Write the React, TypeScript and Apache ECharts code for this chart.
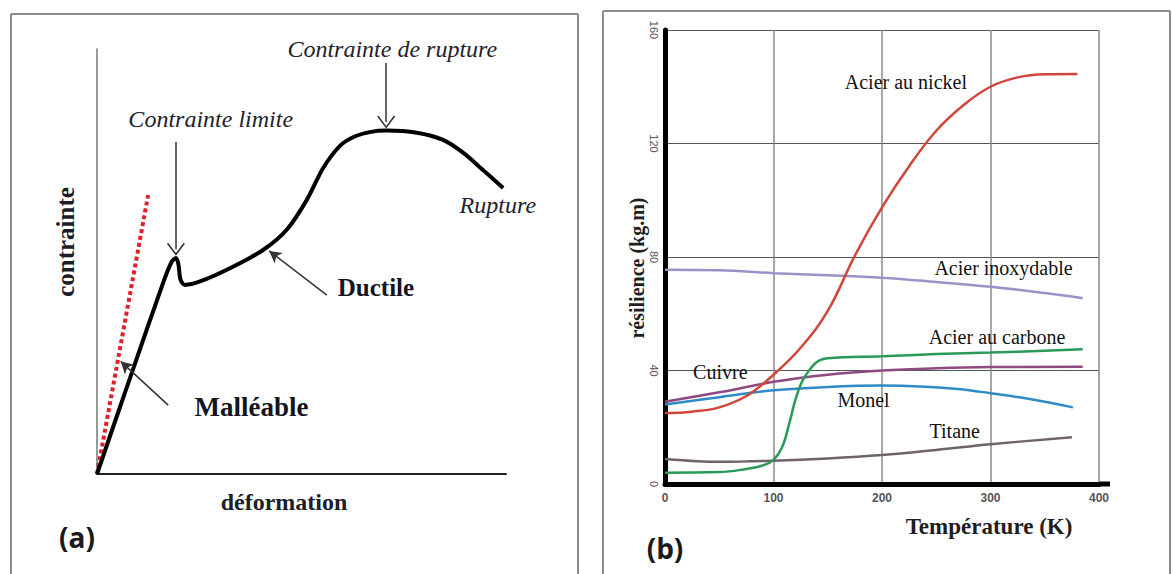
import React, { useEffect, useRef } from 'react';
import * as echarts from 'echarts';

// ---------- Panel (a) : stress / strain (arbitrary units 0..100) ----------
const stressStrainCurve = [
  [0, 0], [8, 22.4], [16.4, 45.6], [18.3, 50.0], [19.3, 50.8], [19.9, 49.4],
  [20.4, 45.8], [21.5, 44.5], [25.2, 45.3], [32.5, 48.4], [40.6, 52.7],
  [46.5, 57.6], [51.3, 64.5], [55.3, 72.0], [59.4, 77.2], [63, 79.4],
  [67, 80.5], [70.7, 80.8], [78.2, 80.3], [84.6, 78.6], [89.5, 75.6],
  [94.4, 71.5], [99.3, 67.3]
];
const elasticLine = [[0, 0], [12.5, 65.6]];

const panelALabels = ['Contrainte limite', 'Contrainte de rupture', 'Rupture', 'Ductile', 'Malléable'];
const panelALabelPos = [[27.8, 83.5], [72.2, 100], [98, 63.3], [68.2, 43.8], [37.8, 15.8]];

// ---------- Panel (b) : résilience vs température ----------
const nickel = [[0, 25], [25, 25.5], [50, 27], [75, 31], [100, 38.5], [125, 48], [150, 61], [175, 80.5],
  [200, 97.5], [225, 112], [250, 124.5], [275, 133.5], [300, 140], [325, 143.3], [350, 144.4], [380, 144.5]];
const inox = [[0, 75.5], [50, 75.3], [100, 74.3], [150, 73.6], [200, 72.7], [250, 71.2], [300, 69.5],
  [350, 67.3], [385, 65.5]];
const carbone = [[0, 4], [50, 4.2], [75, 5.3], [90, 6.5], [100, 8.5], [108, 13], [115, 22], [120, 29.5],
  [125, 35], [130, 38.5], [140, 43], [150, 44.3], [200, 45], [250, 45.8], [300, 46.3], [350, 47], [385, 47.5]];
const cuivre = [[0, 29], [50, 32.3], [100, 36], [150, 38.5], [200, 40], [250, 40.8], [300, 41.2], [385, 41.3]];
const monel = [[0, 28], [50, 30.6], [100, 33], [150, 34.2], [200, 34.7], [240, 34.3], [270, 33.5],
  [300, 32], [340, 29.7], [376, 27]];
const titane = [[0, 8.8], [30, 8], [50, 7.8], [100, 8.2], [150, 9], [200, 10.2], [250, 12], [300, 14], [375, 16.5]];

const panelBLabels = ['Acier au nickel', 'Acier inoxydable', 'Acier au carbone', 'Cuivre', 'Monel', 'Titane'];
const panelBLabelPos = [[222, 141.5], [312, 76], [306, 51.8], [51, 39.4], [183, 29.6], [267, 18.7]];

const SERIF = 'Liberation Serif';

const vArrow = 'path://M0,0 L10,12 L8.6,13 L0,2.6 L-8.6,13 L-10,12 Z';

export default function App() {
  const ref = useRef<HTMLDivElement>(null);

  useEffect(() => {
    if (!ref.current) return;
    const chart = echarts.init(ref.current, undefined, { renderer: 'svg' });

    const bLine = (name: string, data: number[][], color: string) => ({
      name,
      type: 'line',
      xAxisIndex: 1,
      yAxisIndex: 1,
      data,
      smooth: 0.4,
      showSymbol: false,
      lineStyle: { color, width: 2.5 },
      z: 3,
    });

    const option: any = {
      animation: false,
      backgroundColor: '#ffffff',
      grid: [
        { left: 97, top: 49, width: 409, height: 425 },
        { left: 665, top: 30, width: 434, height: 454 },
      ],
      xAxis: [
        {
          gridIndex: 0, type: 'value', min: 0, max: 100,
          axisLine: { show: true, onZero: false, lineStyle: { color: '#222', width: 2 } },
          axisTick: { show: false }, axisLabel: { show: false }, splitLine: { show: false },
        },
        {
          gridIndex: 1, type: 'value', min: 0, max: 400, interval: 100,
          axisLine: { show: true, onZero: false, lineStyle: { color: '#000', width: 5 } },
          axisTick: { show: false },
          axisLabel: { color: '#555', fontSize: 12, fontWeight: 'bold', margin: 8, fontFamily: 'Liberation Sans' },
          splitLine: { show: true, lineStyle: { color: '#8a8a8a', width: 1.5 } },
        },
      ],
      yAxis: [
        {
          gridIndex: 0, type: 'value', min: 0, max: 100,
          axisLine: { show: true, onZero: false, lineStyle: { color: '#777', width: 1.5 } },
          axisTick: { show: false }, axisLabel: { show: false }, splitLine: { show: false },
        },
        {
          gridIndex: 1, type: 'value', min: 0, max: 160, interval: 40,
          axisLine: { show: true, onZero: false, lineStyle: { color: '#000', width: 5 } },
          axisTick: { show: false },
          axisLabel: { rotate: -90, color: '#555', fontSize: 11, margin: 6, fontFamily: 'Liberation Sans' },
          splitLine: { show: true, lineStyle: { color: '#555', width: 1 } },
        },
      ],
      series: [
        {
          type: 'line', xAxisIndex: 0, yAxisIndex: 0, data: elasticLine, showSymbol: false,
          lineStyle: { color: '#e0202c', width: 4, type: [4, 3] }, z: 2,
        },
        {
          type: 'line', xAxisIndex: 0, yAxisIndex: 0, data: stressStrainCurve, showSymbol: false,
          smooth: 0.3, lineStyle: { color: '#000', width: 4 }, z: 3,
          markLine: {
            silent: true,
            symbol: ['none', 'arrow'],
            symbolSize: 10,
            label: { show: false },
            lineStyle: { color: '#333', width: 1.5, type: 'solid' },
            data: [
              [{ coord: [19.3, 78.1], symbol: 'none' }, { coord: [19.3, 52.9], symbol: vArrow, symbolSize: [18, 13] }],
              [{ coord: [70.7, 96.7], symbol: 'none' }, { coord: [70.7, 82.8], symbol: vArrow, symbolSize: [18, 13] }],
              [{ coord: [56.2, 42.1], symbol: 'none' }, { coord: [42.1, 52.5], symbol: 'arrow', symbolSize: [10, 12] }],
              [{ coord: [17.4, 16.2], symbol: 'none' }, { coord: [5.8, 26.5], symbol: 'arrow', symbolSize: [10, 12] }],
            ],
          },
        },
        {
          type: 'scatter', xAxisIndex: 0, yAxisIndex: 0, symbol: 'circle', symbolSize: 1,
          itemStyle: { color: 'rgba(255,255,255,0)', opacity: 1 }, silent: true, clip: false,
          label: { show: true, position: 'inside', formatter: '{b}', fontFamily: SERIF, color: '#15151f' },
          data: panelALabels.map((n, i) => ({
            name: n,
            value: panelALabelPos[i],
            label: i < 3
              ? { fontStyle: 'italic', fontSize: 24, color: '#22222c', fontFamily: SERIF }
              : { fontWeight: 'bold', fontSize: i === 3 ? 25 : 27, color: '#15151f', fontFamily: SERIF },
          })),
          z: 5,
        },
        bLine('Acier inoxydable', inox, '#9c92c9'),
        bLine('Titane', titane, '#6f6464'),
        bLine('Monel', monel, '#2f8bc6'),
        bLine('Cuivre', cuivre, '#8e4a80'),
        bLine('Acier au carbone', carbone, '#2a9a58'),
        bLine('Acier au nickel', nickel, '#d0463a'),
        {
          type: 'scatter', xAxisIndex: 1, yAxisIndex: 1, symbol: 'circle', symbolSize: 1,
          itemStyle: { color: 'rgba(255,255,255,0)', opacity: 1 }, silent: true, clip: false,
          label: { show: true, position: 'inside', formatter: '{b}', fontFamily: SERIF, fontSize: 20, color: '#111111' },
          data: panelBLabels.map((n, i) => ({ name: n, value: panelBLabelPos[i] })),
          z: 5,
        },
      ],
      graphic: {
        elements: [
          // panel frames
          { type: 'line', shape: { x1: 11, y1: 14, x2: 578, y2: 14 }, style: { stroke: '#8c8c8c', lineWidth: 2 }, silent: true },
          { type: 'line', shape: { x1: 11, y1: 14, x2: 11, y2: 574 }, style: { stroke: '#8c8c8c', lineWidth: 2 }, silent: true },
          { type: 'line', shape: { x1: 578, y1: 14, x2: 578, y2: 574 }, style: { stroke: '#8c8c8c', lineWidth: 2 }, silent: true },
          { type: 'line', shape: { x1: 603, y1: 11, x2: 1170, y2: 11 }, style: { stroke: '#8c8c8c', lineWidth: 2 }, silent: true },
          { type: 'line', shape: { x1: 603, y1: 11, x2: 603, y2: 574 }, style: { stroke: '#8c8c8c', lineWidth: 2 }, silent: true },
          { type: 'line', shape: { x1: 1170, y1: 11, x2: 1170, y2: 574 }, style: { stroke: '#8c8c8c', lineWidth: 2 }, silent: true },
          // extension of the thick temperature axis beyond 400 K
          { type: 'line', shape: { x1: 1099, y1: 484, x2: 1110, y2: 484 }, style: { stroke: '#000', lineWidth: 5 }, silent: true },
          // axis titles
          {
            type: 'text', x: 65, y: 242, rotation: Math.PI / 2, silent: true,
            style: { text: 'contrainte', fontFamily: SERIF, fontWeight: 'bold', fontSize: 25, fill: '#1e1e28', align: 'center', verticalAlign: 'middle' },
          },
          {
            type: 'text', x: 284, y: 502, silent: true,
            style: { text: 'déformation', fontFamily: SERIF, fontWeight: 'bold', fontSize: 24, fill: '#1e1e28', align: 'center', verticalAlign: 'middle' },
          },
          {
            type: 'text', x: 637, y: 268, rotation: Math.PI / 2, silent: true,
            style: { text: 'résilience (kg.m)', fontFamily: SERIF, fontWeight: 'bold', fontSize: 20, fill: '#1e1e1e', align: 'center', verticalAlign: 'middle' },
          },
          {
            type: 'text', x: 989, y: 526, silent: true,
            style: { text: 'Température (K)', fontFamily: SERIF, fontWeight: 'bold', fontSize: 23, fill: '#1e1e1e', align: 'center', verticalAlign: 'middle' },
          },
          // panel letters
          {
            type: 'text', x: 77, y: 537, silent: true,
            style: { text: '(a)', fontFamily: 'Open Sans', fontWeight: 'bold', fontSize: 28, fill: '#1a1a1a', align: 'center', verticalAlign: 'middle' },
          },
          {
            type: 'text', x: 665, y: 548, silent: true,
            style: { text: '(b)', fontFamily: 'Open Sans', fontWeight: 'bold', fontSize: 28, fill: '#1a1a1a', align: 'center', verticalAlign: 'middle' },
          },
        ],
      },
    };

    chart.setOption(option);
    return () => chart.dispose();
  }, []);

  return (
    <div
      ref={ref}
      style={{ position: 'fixed', left: 0, top: 0, width: 1173, height: 574, background: '#fff' }}
    />
  );
}
